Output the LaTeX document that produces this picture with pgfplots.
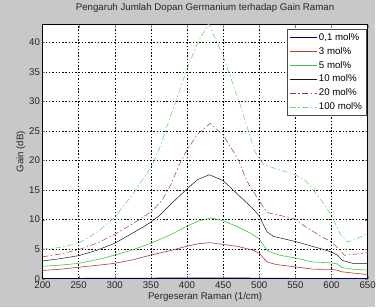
\documentclass[border=0pt]{standalone}
\usepackage{pgfplots}
\pgfplotsset{compat=1.18}
\usepackage{fontspec}
\setmainfont{Liberation Sans}
\usetikzlibrary{backgrounds,calc}
\definecolor{figbg}{RGB}{200,200,200}
\definecolor{cnavy}{RGB}{0,0,140}
\definecolor{cred}{RGB}{185,55,55}
\definecolor{cdred}{RGB}{170,50,50}
\definecolor{cgreen}{RGB}{60,200,60}
\definecolor{clgreen}{RGB}{110,215,110}
\begin{document}
\begin{tikzpicture}
\begin{axis}[
  scale only axis, width=329pt, height=257pt,
  xmin=200, xmax=650, ymin=0, ymax=43,
  xtick={200,250,...,650}, ytick={0,5,...,40},
  grid=major,
  major grid style={black, dash pattern=on 1.5pt off 1.8pt, line width=0.45pt},
  tick align=inside, tick pos=both, major tick length=3pt,
  axis line style={black, line width=0.6pt},
  axis background/.style={fill=white},
  /pgf/number format/assume math mode=true,
  tick label style={font=\fontsize{9.8}{11}\selectfont, color=black!85},
  xticklabel style={yshift=0.5pt},
  yticklabel style={xshift=1pt},
  label style={font=\fontsize{9.8}{11}\selectfont, color=black!85},
  title={Pengaruh Jumlah Dopan Germanium terhadap Gain Raman},
  title style={font=\fontsize{9.8}{11}\selectfont, color=black!85, at={(0.5,1)}, anchor=south, yshift=2.5pt},
  xlabel={Pergeseran Raman (1/cm)},
  xlabel style={yshift=3pt},
  ylabel={Gain (dB)},
  ylabel style={yshift=-3pt},
  legend style={at={(rel axis cs:0.997,0.984)}, anchor=north east, draw=black!70, fill=white,
    font=\fontsize{9.8}{11}\selectfont, row sep=1.4pt, inner sep=2.5pt,
    /tikz/every even column/.append style={column sep=1.5pt}},
  legend cell align=left,
  legend image code/.code={\draw[#1] plot coordinates {(0pt,0pt) (27pt,0pt)};},
]
\addplot[cnavy, line width=0.6pt] coordinates {(200,0.05) (300,0.08) (400,0.13) (430,0.15) (500,0.1) (550,0.06) (650,0.03)};
\addlegendentry{0,1 mol\%}
\addplot[cred, line width=0.6pt] coordinates {(200,1.4) (225,1.6) (250,1.95) (275,2.25) (300,2.6) (325,3.2) (350,4.0) (375,4.7) (400,5.5) (415,5.9) (432,6.1) (450,5.8) (470,5.47) (492,4.8) (500,4.3) (505,3.6) (511,2.85) (520,2.5) (529,2.3) (550,2.0) (574,1.62) (600,1.56) (608,1.45) (614,1.17) (630,0.95) (650,0.7)};
\addlegendentry{3 mol\%}
\addplot[cgreen, line width=0.6pt] coordinates {(200,2.1) (225,2.3) (250,2.6) (275,3.2) (300,4.0) (325,4.9) (350,6.0) (375,7.3) (400,8.9) (415,9.7) (433,10.3) (450,9.8) (470,8.8) (488,7.7) (500,6.74) (505,5.8) (511,4.8) (520,4.3) (529,3.96) (550,3.5) (574,2.83) (600,2.67) (608,2.5) (614,1.9) (630,1.6) (650,1.45)};
\addlegendentry{5 mol\%}
\addplot[black!90, line width=0.5pt] coordinates {(200,3.0) (225,3.4) (250,3.9) (275,4.8) (300,6.0) (320,7.4) (340,8.8) (350,9.6) (362,10.7) (380,12.9) (400,15.2) (415,16.8) (431,17.6) (450,16.6) (470,14.3) (490,12.0) (500,10.66) (505,9.3) (511,7.9) (520,7.14) (550,6.3) (570,5.6) (590,4.9) (600,4.5) (608,4.0) (615,3.1) (629,2.6) (650,2.55)};
\addlegendentry{10 mol\%}
\addplot[cdred, line width=0.5pt, dash pattern=on 6pt off 2.5pt on 1.5pt off 2.5pt] coordinates {(200,3.7) (225,4.2) (250,4.9) (275,6.0) (300,7.5) (325,9.3) (350,11.3) (365,13.2) (378,16) (390,19.5) (400,21.8) (415,24.5) (432,26.3) (450,24.3) (470,20.4) (483,16.5) (500,13.15) (511,11.2) (529,10.7) (550,10.1) (565,8.7) (588,7.0) (600,6.2) (612,4.8) (618,3.96) (629,4.1) (650,4.4)};
\addlegendentry{20 mol\%}
\addplot[clgreen, line width=0.6pt, dash pattern=on 6pt off 2.5pt on 1.5pt off 2.5pt] coordinates {(200,5.0) (225,5.3) (250,6.0) (275,7.8) (300,10.4) (325,14.3) (350,18.8) (362,22.1) (380,28.5) (400,35.5) (415,40) (430,43.2) (450,37.7) (474,29.3) (494,21.5) (506,19.3) (520,18.75) (550,17.6) (565,16.5) (588,12.9) (600,10.7) (612,7.6) (622,6.2) (632,6.6) (650,7.6)};
\addlegendentry{100 mol\%}
\end{axis}
\begin{scope}[on background layer]
\fill[figbg] ($(current axis.south west)+(-43pt,-29pt)$) rectangle ($(current axis.north east)+(7pt,25pt)$);
\end{scope}
\end{tikzpicture}
\end{document}
